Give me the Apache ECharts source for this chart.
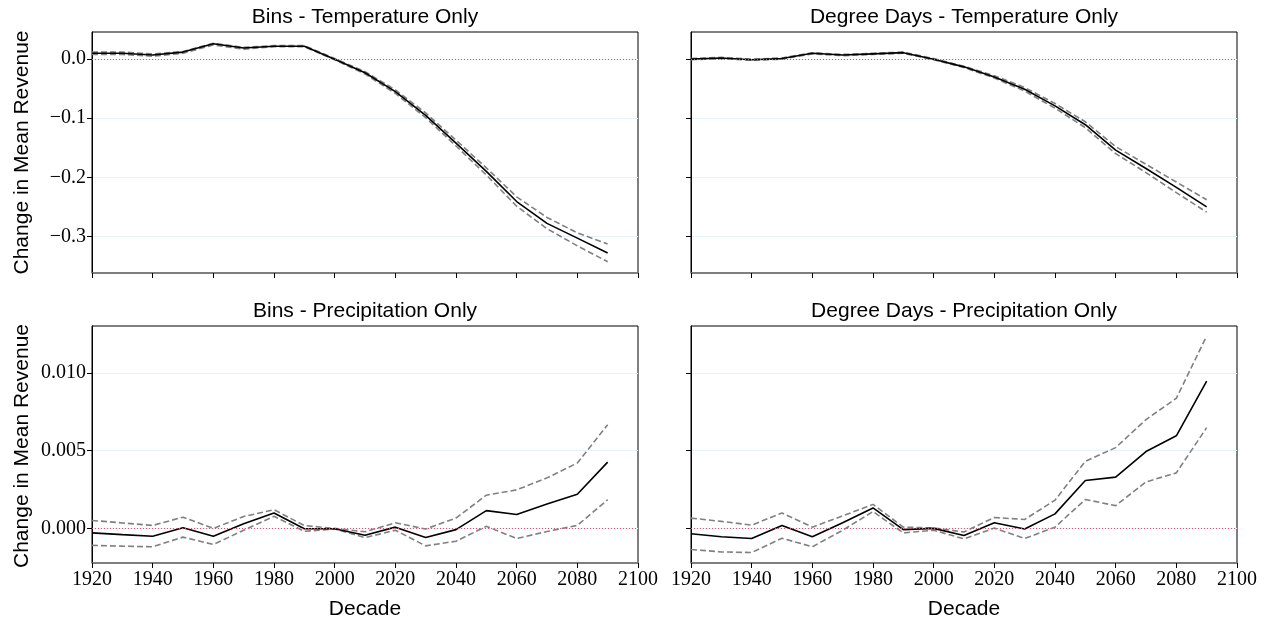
<!DOCTYPE html>
<html><head><meta charset="utf-8">
<script src="https://cdn.jsdelivr.net/npm/echarts@6/dist/echarts.min.js"></script>
<style>html,body{margin:0;padding:0;background:#fff}#c{width:1270px;height:621px}</style>
</head><body><div id="c"></div>
<script>
const decades = [1920,1930,1940,1950,1960,1970,1980,1990,2000,2010,2020,2030,2040,2050,2060,2070,2080,2090];
const xTicks = [1920,1940,1960,1980,2000,2020,2040,2060,2080,2100];
const tempTicks = [-0.3,-0.2,-0.1,0.0];
const precipTicks = [0.000,0.005,0.010];

const binsTemp      = [0.010,0.010,0.007,0.012,0.026,0.019,0.022,0.022,0.000,-0.023,-0.055,-0.095,-0.142,-0.190,-0.241,-0.278,-0.303,-0.328];
const binsTempUp    = [0.012,0.012,0.009,0.013,0.027,0.020,0.023,0.023,0.001,-0.021,-0.052,-0.091,-0.137,-0.184,-0.233,-0.268,-0.294,-0.313];
const binsTempLo    = [0.008,0.008,0.005,0.010,0.024,0.017,0.021,0.021,-0.001,-0.025,-0.058,-0.099,-0.147,-0.196,-0.249,-0.287,-0.316,-0.343];

const ddTemp        = [0.000,0.002,-0.001,0.001,0.010,0.007,0.009,0.011,0.000,-0.013,-0.030,-0.051,-0.079,-0.111,-0.154,-0.185,-0.217,-0.250];
const ddTempUp      = [0.001,0.003,0.000,0.002,0.011,0.008,0.010,0.012,0.001,-0.012,-0.028,-0.048,-0.075,-0.106,-0.148,-0.178,-0.208,-0.238];
const ddTempLo      = [-0.001,0.001,-0.002,0.000,0.009,0.006,0.008,0.010,-0.001,-0.014,-0.032,-0.054,-0.083,-0.116,-0.160,-0.192,-0.226,-0.259];

const binsPrecip    = [-0.00027,-0.00038,-0.00048,0.00006,-0.00048,0.00032,0.00101,0.00000,0.00000,-0.00042,0.00010,-0.00057,-0.00006,0.00116,0.00091,0.00158,0.00221,0.00427];
const binsPrecipUp  = [0.00053,0.00037,0.00021,0.00074,0.00002,0.00078,0.00122,0.00020,0.00002,-0.00020,0.00038,-0.00002,0.00068,0.00215,0.00249,0.00326,0.00421,0.00667];
const binsPrecipLo  = [-0.00107,-0.00112,-0.00116,-0.00054,-0.00101,-0.00010,0.00080,-0.00017,-0.00002,-0.00057,-0.00010,-0.00110,-0.00080,0.00015,-0.00063,-0.00018,0.00021,0.00186];

const ddPrecip      = [-0.00032,-0.00052,-0.00063,0.00021,-0.00052,0.00038,0.00133,-0.00006,0.00002,-0.00044,0.00038,-0.00002,0.00095,0.00309,0.00331,0.00495,0.00596,0.00947];
const ddPrecipUp    = [0.00068,0.00047,0.00023,0.00101,0.00010,0.00082,0.00156,0.00010,0.00005,-0.00021,0.00072,0.00059,0.00183,0.00432,0.00520,0.00700,0.00836,0.01236];
const ddPrecipLo    = [-0.00133,-0.00149,-0.00153,-0.00061,-0.00116,-0.00010,0.00110,-0.00027,-0.00010,-0.00065,0.00004,-0.00063,0.00010,0.00187,0.00148,0.00300,0.00358,0.00648];

const panels = [
  {title:'Bins - Temperature Only', mid:binsTemp, up:binsTempUp, lo:binsTempLo, left:92, top:32, height:241, kind:'t', ylab:true, xlab:false},
  {title:'Degree Days - Temperature Only', mid:ddTemp, up:ddTempUp, lo:ddTempLo, left:691, top:32, height:241, kind:'t', ylab:false, xlab:false},
  {title:'Bins - Precipitation Only', mid:binsPrecip, up:binsPrecipUp, lo:binsPrecipLo, left:92, top:326, height:240, kind:'p', ylab:true, xlab:true},
  {title:'Degree Days - Precipitation Only', mid:ddPrecip, up:ddPrecipUp, lo:ddPrecipLo, left:691, top:326, height:240, kind:'p', ylab:false, xlab:true}
];
const W = 546;
const serif = 'Liberation Serif';
const sans = 'Liberation Sans';
const pair = arr => decades.map((d,i)=>[d,arr[i]]);
const fmtT = v => (v < -1e-9 ? '\u2212' : '') + Math.abs(v).toFixed(1);
const fmtP = v => (v < -1e-9 ? '\u2212' : '') + Math.abs(v).toFixed(3);

const grid=[], xAxis=[], yAxis=[], series=[], graphic=[];
panels.forEach((p,k)=>{
  grid.push({left:p.left, top:p.top, width:W, height:p.height, show:true, borderColor:'#000', borderWidth:1, backgroundColor:'#fff'});
  xAxis.push({type:'value', gridIndex:k, min:1920, max:2100, interval:20,
    axisLine:{show:true, onZero:false, lineStyle:{color:'#7f7f7f', width:1.6}},
    axisTick:{show:true, inside:false, length:5, customValues:xTicks, lineStyle:{color:'#000', width:1}},
    axisLabel:{show:p.xlab, customValues:xTicks, fontFamily:serif, fontSize:20, color:'#000', margin:7, formatter: v => String(Math.round(v))},
    splitLine:{show:false},
    name: p.xlab ? 'Decade' : '', nameLocation:'middle', nameGap:36,
    nameTextStyle:{fontFamily:sans, fontSize:21, color:'#000'}
  });
  const ticks = p.kind==='t' ? tempTicks : precipTicks;
  yAxis.push({type:'value', gridIndex:k,
    min: p.kind==='t' ? -0.362 : -0.0022,
    max: p.kind==='t' ? 0.046 : 0.0130,
    axisLine:{show:true, lineStyle:{color:'#000', width:1}},
    axisTick:{show:true, length:5, customValues:ticks, lineStyle:{color:'#000', width:1}},
    axisLabel:{show:p.ylab, customValues:ticks, fontFamily:serif, fontSize:20, color:'#000', margin:6,
      formatter: p.kind==='t' ? fmtT : fmtP},
    splitLine:{show:true, lineStyle:{color:'#e4f3f7', width:1}}
  });
  series.push({type:'line', xAxisIndex:k, yAxisIndex:k, data:pair(p.up), showSymbol:false, symbol:'none',
    lineStyle:{color:'#808080', width:1.6, type:[6,3]}, z:3, silent:true,
    markLine:{silent:true, symbol:'none', label:{show:false}, animation:false,
      lineStyle:{color:'#e0506a', width:1, type:[1,2]}, data:[{yAxis:0}]}});
  series.push({type:'line', xAxisIndex:k, yAxisIndex:k, data:pair(p.lo), showSymbol:false, symbol:'none',
    lineStyle:{color:'#808080', width:1.6, type:[6,3]}, z:3, silent:true});
  series.push({type:'line', xAxisIndex:k, yAxisIndex:k, data:pair(p.mid), showSymbol:false, symbol:'none',
    lineStyle:{color:'#000', width:1.6}, z:4, silent:true});
  graphic.push({type:'text', x:p.left+W/2, y:p.top-15, style:{text:p.title, fontFamily:sans, fontSize:21, fill:'#000', align:'center', verticalAlign:'middle'}});
  if (p.ylab) {
    graphic.push({type:'text', x:22, y:p.top+p.height/2, rotation:Math.PI/2,
      style:{text:'Change in Mean Revenue', fontFamily:sans, fontSize:21, fill:'#000', align:'center', verticalAlign:'middle'}});
  }
});

const chart = echarts.init(document.getElementById('c'), null, {renderer:'canvas'});
chart.setOption({animation:false, grid, xAxis, yAxis, series, graphic});
</script></body></html>
